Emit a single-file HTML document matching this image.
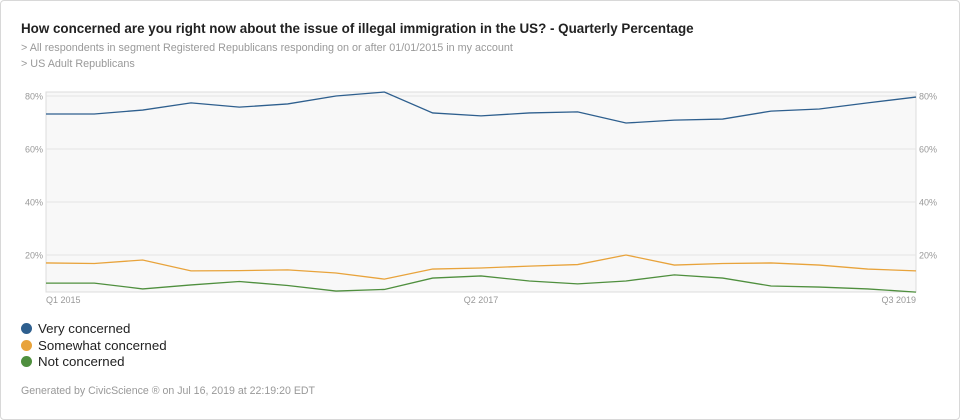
<!DOCTYPE html>
<html><head><meta charset="utf-8"><style>
body{margin:0;background:#fff;font-family:"Liberation Sans",sans-serif;}
#card{position:absolute;left:0;top:0;width:958px;height:418px;border:1px solid #d8d8d8;border-radius:4px;background:#fff;}
.t{position:absolute;white-space:nowrap;}
</style></head><body>
<div id="card">
<div class="t" style="left:20px;top:20px;font-size:13.4px;font-weight:bold;color:#222;">How concerned are you right now about the issue of illegal immigration in the US? - Quarterly Percentage</div>
<div class="t" style="left:20px;top:41px;font-size:10.8px;color:#999;">&gt; All respondents in segment Registered Republicans responding on or after 01/01/2015 in my account</div>
<div class="t" style="left:20px;top:57px;font-size:10.8px;color:#999;">&gt; US Adult Republicans</div>
<svg id="chart" width="960" height="310" style="position:absolute;left:0;top:0"></svg>
<div style="position:absolute;left:20px;top:320px;font-size:13.3px;color:#222;line-height:16.5px;">
<div><span style="display:inline-block;width:11px;height:11px;border-radius:50%;background:#2e5f8e;vertical-align:-1px;margin-right:6px"></span>Very concerned</div>
<div><span style="display:inline-block;width:11px;height:11px;border-radius:50%;background:#e8a33b;vertical-align:-1px;margin-right:6px"></span>Somewhat concerned</div>
<div><span style="display:inline-block;width:11px;height:11px;border-radius:50%;background:#4f8f3e;vertical-align:-1px;margin-right:6px"></span>Not concerned</div>
</div>
<div class="t" style="left:20px;top:384px;font-size:10.6px;color:#999;">Generated by CivicScience ® on Jul 16, 2019 at 22:19:20 EDT</div>
</div>
<script>
const quarters=["Q1 2015","Q2 2015","Q3 2015","Q4 2015","Q1 2016","Q2 2016","Q3 2016","Q4 2016","Q1 2017","Q2 2017","Q3 2017","Q4 2017","Q1 2018","Q2 2018","Q3 2018","Q4 2018","Q1 2019","Q2 2019","Q3 2019"];
const veryConcerned=[73.2,73.2,74.7,77.4,75.8,77,80,81.5,73.6,72.5,73.6,74,69.8,70.9,71.3,74.3,75.1,77.4,79.6];
const somewhatConcerned=[17,16.8,18.1,14,14.1,14.4,13.2,10.9,14.7,15.1,15.8,16.4,20,16.2,16.8,17,16.2,14.7,14];
const notConcerned=[9.4,9.4,7.2,8.7,10,8.5,6.4,7,11.3,12.1,10.2,9.1,10.2,12.5,11.3,8.3,7.9,7.2,6];
const yTicks=[20,40,60,80];
const xLabels=["Q1 2015","Q2 2017","Q3 2019"];
const svg=document.getElementById('chart');
const NS='http://www.w3.org/2000/svg';
const L=45,R=915,T=91,B=291;
const x=i=>L+(R-L)*i/(quarters.length-1);
const y=v=>307-v*2.65;
function mk(tag,attrs){const e=document.createElementNS(NS,tag);for(const k in attrs)e.setAttribute(k,attrs[k]);svg.appendChild(e);return e;}
const bg=mk('rect',{x:L,y:T,width:R-L,height:B-T,fill:'#f8f8f8',stroke:'#dcdcdc'});


yTicks.forEach(v=>{
 const g=mk('line',{x1:L,x2:R,y1:y(v),y2:y(v),stroke:'#e4e4e4'});
 
 
 const a=mk('text',{x:L-3,y:y(v)+3.5,'text-anchor':'end','font-size':9,fill:'#999','font-family':'Liberation Sans'});a.textContent=v+'%';
 
 
 const b=mk('text',{x:R+3,y:y(v)+3.5,'font-size':9,fill:'#999','font-family':'Liberation Sans'});b.textContent=v+'%';
 
 
});
xLabels.forEach(l=>{
 const i=quarters.indexOf(l);
 const anchor=i===0?'start':(i===quarters.length-1?'end':'middle');
 const t=mk('text',{x:x(i),y:302,'text-anchor':anchor,'font-size':9,fill:'#999','font-family':'Liberation Sans'});t.textContent=l;
 
 
});
[[veryConcerned,'#2e5f8e','line-very-concerned'],[somewhatConcerned,'#e8a33b','line-somewhat-concerned'],[notConcerned,'#4f8f3e','line-not-concerned']].forEach(([d,c,n])=>{
 const p=mk('polyline',{points:d.map((v,i)=>x(i)+','+y(v)).join(' '),fill:'none',stroke:c,'stroke-width':1.3});
 
 
});
</script>
</body></html>
